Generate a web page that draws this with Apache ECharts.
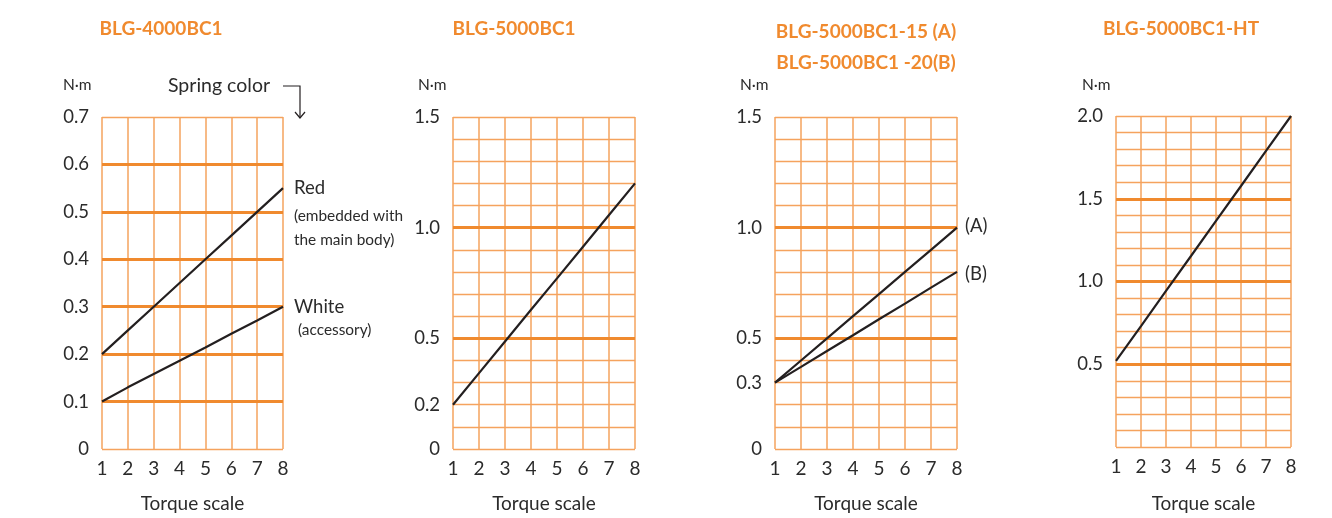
<!DOCTYPE html>
<html><head><meta charset="utf-8">
<script src="https://cdn.jsdelivr.net/npm/echarts@6/dist/echarts.min.js"></script>
<style>html,body{margin:0;padding:0;background:#fff;}#c{width:1332px;height:518px;}</style>
</head><body><div id="c"></div>
<script>
// ---- data ----
const torqueScale = [1, 2, 3, 4, 5, 6, 7, 8];
const titles = ['BLG-4000BC1', 'BLG-5000BC1', 'BLG-5000BC1-15 (A)', 'BLG-5000BC1 -20(B)', 'BLG-5000BC1-HT'];
const redSpring = [0.2, 0.25, 0.3, 0.35, 0.4, 0.45, 0.5, 0.55];
const whiteSpring = [0.1, 0.13, 0.158, 0.186, 0.214, 0.243, 0.271, 0.3];
const bc1 = [0.2, 0.343, 0.486, 0.629, 0.771, 0.914, 1.057, 1.2];
const bc1_15A = [0.3, 0.4, 0.5, 0.6, 0.7, 0.8, 0.9, 1.0];
const bc1_20B = [0.3, 0.371, 0.443, 0.514, 0.586, 0.657, 0.729, 0.8];
const bc1HT = [0.52, 0.731, 0.943, 1.154, 1.366, 1.577, 1.789, 2.0];
const yLabels1 = [0, 0.1, 0.2, 0.3, 0.4, 0.5, 0.6, 0.7];
const yLabels2 = [0, 0.2, 0.5, 1.0, 1.5];
const yLabels3 = [0, 0.3, 0.5, 1.0, 1.5];
const yLabels4 = [0.5, 1.0, 1.5, 2.0];
const major1 = [0.1, 0.2, 0.3, 0.4, 0.5, 0.6];
const major2 = [0.5, 1.0];
const major3 = [0.5, 1.0];
const major4 = [0.5, 1.0, 1.5];

// ---- styles ----
const FONT = 'Lato, "Open Sans", sans-serif';
const ORANGE = '#F08A2E';
const GRIDC = '#F5A35E';
const TXT = '#2b2b2b';
const INK = '#231f20';

const grids = [
  {left: 102, top: 117, width: 181, height: 332},
  {left: 453, top: 117, width: 182, height: 332},
  {left: 775, top: 117, width: 182, height: 332},
  {left: 1116, top: 116, width: 175, height: 331}
];
const nameGaps = [45, 45, 45, 47];
const yCfg = [
  {max: 0.7, labels: yLabels1, major: major1, fmt: v => v === 0 ? '0' : v.toFixed(1)},
  {max: 1.5, labels: yLabels2, major: major2, fmt: v => v === 0 ? '0' : v.toFixed(1)},
  {max: 1.5, labels: yLabels3, major: major3, fmt: v => v === 0 ? '0' : v.toFixed(1)},
  {max: 2.0, labels: yLabels4, major: major4, fmt: v => v.toFixed(1)}
];

function pairs(arr) { return torqueScale.map((x, i) => [x, arr[i]]); }

const option = {
  backgroundColor: '#fff',
  animation: false,
  textStyle: {fontFamily: FONT},
  grid: grids.map(g => Object.assign({containLabel: false, outerBoundsMode: 'none', show: false}, g)),
  xAxis: grids.map((g, i) => ({
    type: 'value', gridIndex: i, min: 1, max: 8, interval: 1,
    axisLine: {show: false}, axisTick: {show: false},
    axisLabel: {fontSize: 19, color: TXT, margin: 10, fontFamily: FONT},
    splitLine: {show: true, lineStyle: {color: GRIDC, width: 1.5}},
    name: 'Torque scale', nameLocation: 'middle', nameGap: nameGaps[i],
    nameTextStyle: {fontSize: 19, color: TXT, fontFamily: FONT}
  })),
  yAxis: grids.map((g, i) => ({
    type: 'value', gridIndex: i, min: 0, max: yCfg[i].max, interval: 0.1,
    axisLine: {show: false}, axisTick: {show: false},
    axisLabel: {
      fontSize: 18.5, color: TXT, margin: 13, fontFamily: FONT, showMinLabel: true, showMaxLabel: true,
      formatter: v => yCfg[i].labels.some(l => Math.abs(l - v) < 1e-6) ? yCfg[i].fmt(v) : ''
    },
    splitLine: {show: true, lineStyle: {color: GRIDC, width: 1.3}}
  })),
  series: [],
  graphic: []
};

// thick major lines
grids.forEach((g, i) => {
  option.series.push({
    type: 'line', xAxisIndex: i, yAxisIndex: i, data: [], z: 2, silent: true,
    markLine: {
      silent: true, symbol: 'none', label: {show: false},
      lineStyle: {color: ORANGE, width: 3, type: 'solid'},
      data: yCfg[i].major.map(v => ({yAxis: v}))
    }
  });
});

const lineSeries = [
  [0, redSpring], [0, whiteSpring], [1, bc1], [2, bc1_15A], [2, bc1_20B], [3, bc1HT]
];
lineSeries.forEach(([gi, arr]) => {
  option.series.push({
    type: 'line', xAxisIndex: gi, yAxisIndex: gi, data: pairs(arr), z: 5,
    symbol: 'none', smooth: false, silent: true,
    lineStyle: {color: INK, width: 2.2}
  });
});

function txt(x, y, text, size, opts) {
  return Object.assign({
    type: 'text', x: x, y: y, silent: true,
    style: Object.assign({text: text, fontSize: size, fontFamily: FONT, fill: TXT,
      textAlign: 'left', textVerticalAlign: 'middle'}, (opts || {}))
  });
}
const T = {fill: ORANGE, fontWeight: 'bold', textAlign: 'center'};
option.graphic = [
  txt(161, 29, titles[0], 19, T),
  txt(514, 29, titles[1], 19, T),
  txt(866, 32, titles[2], 19, T),
  txt(866, 63, titles[3], 19, T),
  txt(1181, 29, titles[4], 19, T),
  txt(63, 85, 'N·m', 15.5),
  txt(418, 85, 'N·m', 15.5),
  txt(740, 85, 'N·m', 15.5),
  txt(1082, 85, 'N·m', 15.5),
  txt(168, 86, 'Spring color', 19.5),
  {type: 'polyline', silent: true, shape: {points: [[283, 86], [300, 86], [300, 118]]}, style: {stroke: INK, lineWidth: 1.2, fill: null}},
  {type: 'polyline', silent: true, shape: {points: [[295, 112], [300, 118], [305, 112]]}, style: {stroke: INK, lineWidth: 1.2, fill: null}},
  txt(294, 188, 'Red', 18.5),
  txt(294, 216, '(embedded with', 15.4),
  txt(294, 240, 'the main body)', 15.4),
  txt(294, 307, 'White', 18.5),
  txt(298, 330, '(accessory)', 15.4),
  txt(965, 226, '(A)', 18.5),
  txt(965, 274, '(B)', 18.5)
];

const chart = echarts.init(document.getElementById('c'), null, {renderer: 'canvas'});
chart.setOption(option);
</script></body></html>
